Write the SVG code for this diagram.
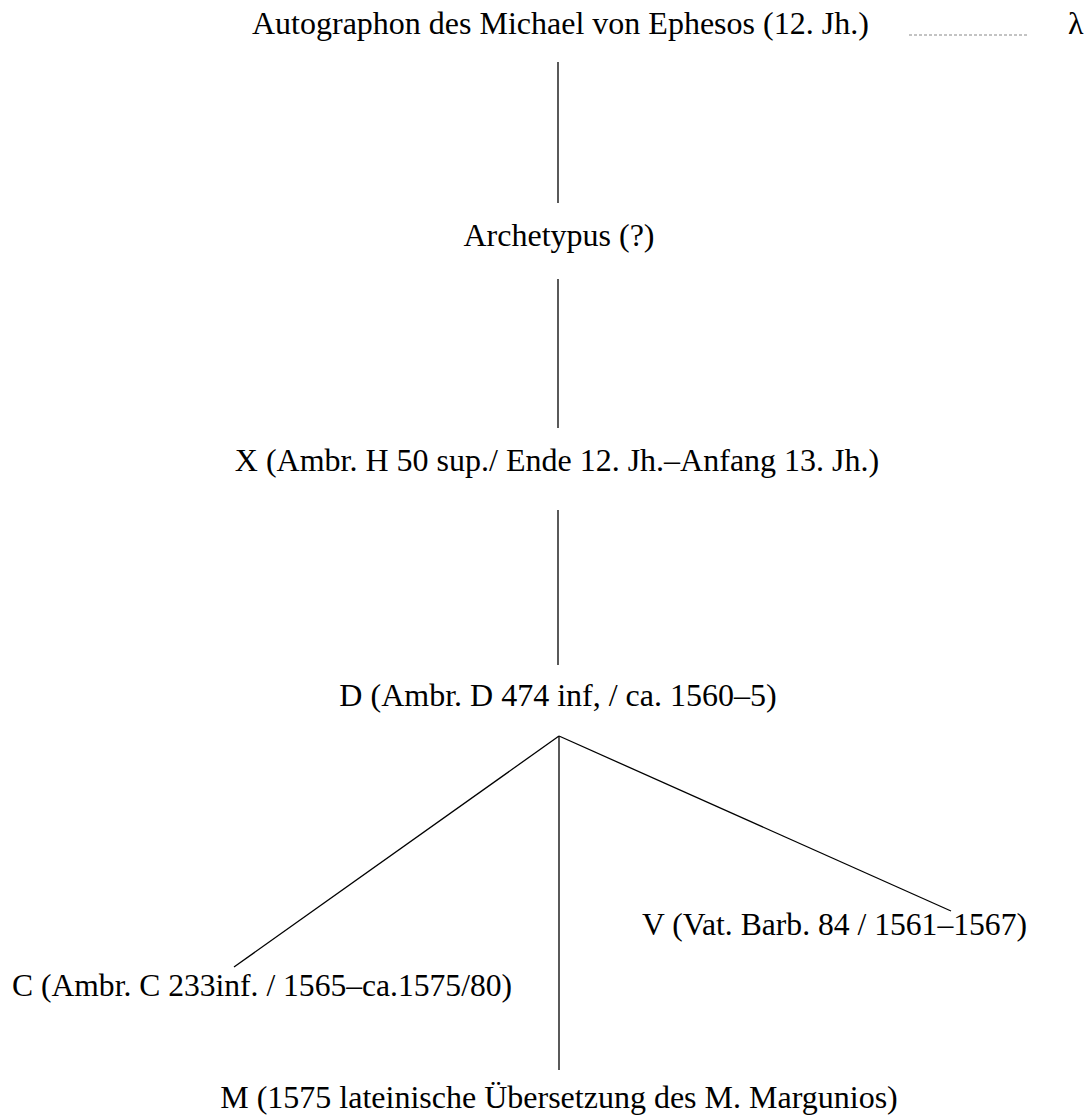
<svg xmlns="http://www.w3.org/2000/svg" width="1090" height="1117" viewBox="0 0 1090 1117">
<style>
text{font-family:"Liberation Serif","Times New Roman",serif;font-size:32px;fill:#000}
.e{stroke:#000;stroke-width:1.3;fill:none}
</style>
<rect width="1090" height="1117" fill="#ffffff"/>
<g id="connectors">
<line class="e" x1="558" y1="62" x2="558" y2="203"/>
<line class="e" x1="558" y1="279" x2="558" y2="428"/>
<line class="e" x1="558" y1="510" x2="558" y2="665"/>
<line class="e" x1="559" y1="736" x2="559" y2="1070"/>
<line class="e" x1="559" y1="736" x2="234" y2="967"/>
<line class="e" x1="559" y1="736" x2="951" y2="911"/>
<line x1="909" y1="35" x2="1027" y2="35" stroke="#888" stroke-width="1" stroke-dasharray="3,2"/>
</g>
<g id="n-autograph"><text x="252" y="34">Autographon des Michael von Ephesos (12. Jh.)</text></g>
<g id="n-lambda"><text x="1068" y="34">λ</text></g>
<g id="n-archetypus"><text x="559" y="246" text-anchor="middle">Archetypus (?)</text></g>
<g id="n-x"><text x="557" y="471" text-anchor="middle">X (Ambr. H 50 sup./ Ende 12. Jh.–Anfang 13. Jh.)</text></g>
<g id="n-d"><text x="558" y="706" text-anchor="middle">D (Ambr. D 474 inf, / ca. 1560–5)</text></g>
<g id="n-v"><text x="642" y="935" textLength="385" lengthAdjust="spacingAndGlyphs">V (Vat. Barb. 84 / 1561–1567)</text></g>
<g id="n-c"><text x="12" y="996" textLength="500" lengthAdjust="spacingAndGlyphs">C (Ambr. C 233inf. / 1565–ca.1575/80)</text></g>
<g id="n-m"><text x="559" y="1108" text-anchor="middle">M (1575 lateinische Übersetzung des M. Margunios)</text></g>
</svg>
